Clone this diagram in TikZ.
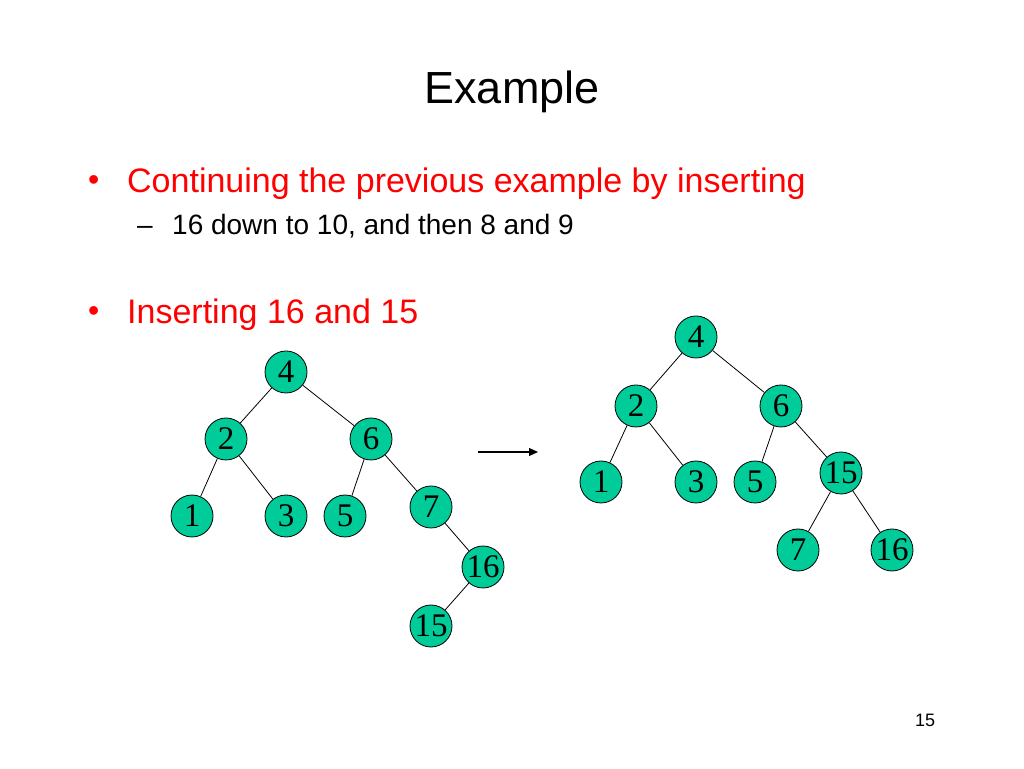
\documentclass[tikz,border=0pt]{standalone}
\usepackage{fontspec}
\setmainfont{Liberation Serif}
\setsansfont{Liberation Sans}
\usetikzlibrary{arrows.meta}
\usetikzlibrary{positioning}
\definecolor{keygreen}{RGB}{0,204,153}
\newcommand{\slidefont}[1]{\sffamily\fontsize{#1}{#1}\selectfont}

\begin{document}
\begin{tikzpicture}
    [x=1pt,y=1pt,
    key/.style={circle,draw=black,fill=keygreen,line width=0.8pt,
      inner sep=0pt,minimum size=42pt,font=\fontsize{33}{33}\selectfont},
    link/.style={draw=black,line width=0.8pt},
    bullet/.style={anchor=base west,inner sep=0pt},
    on grid]

    \useasboundingbox (0,0) rectangle (1024,768);

    % text of the slide
    \node (title) [anchor=base,inner sep=0pt] at (512,664) {\slidefont{45}Example};
    \node (dot1) [bullet,text=red] at (88,577) {\slidefont{32}\textbullet};
    \node (item1) [bullet,text=red] at (127,575) {\slidefont{34}Continuing the previous example by inserting};
    \node (dash1) [bullet] at (137,533) {\slidefont{28}--};
    \node (item2) [bullet] at (172,533) {\slidefont{28}16 down to 10, and then 8 and 9};
    \node (dot2) [bullet,text=red] at (88,446) {\slidefont{32}\textbullet};
    \node (item3) [bullet,text=red] at (127,444) {\slidefont{34}Inserting 16 and 15};
    \node (page) [anchor=base,inner sep=0pt] at (925,42) {\slidefont{18}15};

    % tree before the rotation
    \node[key] (l4) at (286,396) {4};
    \node[key] (l2)  [below left=67pt and 60pt of l4]  {2};
    \node[key] (l6)  [below right=67pt and 85pt of l4] {6};
    \node[key] (l1)  [below left=77pt and 34pt of l2]  {1};
    \node[key] (l3)  [below right=77pt and 60pt of l2] {3};
    \node[key] (l5)  [below left=77pt and 26pt of l6]  {5};
    \node[key] (l7)  [below right=68pt and 60pt of l6] {7};
    \node[key] (l16) [below right=60pt and 52pt of l7] {16};
    \node[key] (l15) [below left=59pt and 52pt of l16] {15};

    \draw[link] (l4) -- (l2);
    \draw[link] (l4) -- (l6);
    \draw[link] (l2) -- (l1);
    \draw[link] (l2) -- (l3);
    \draw[link] (l6) -- (l5);
    \draw[link] (l6) -- (l7);
    \draw[link] (l7) -- (l16);
    \draw[link] (l16) -- (l15);

    % arrow
    \coordinate (arrow start) at (478,316);
    \coordinate (arrow end)   at (538,316);
    \draw[line width=1.2pt,-{Triangle[length=9pt,width=8pt]}] (arrow start) -- (arrow end);

    % tree after the rotation
    \node[key] (r4) at (696,431) {4};
    \node[key] (r2)  [below left=69pt and 60pt of r4]  {2};
    \node[key] (r6)  [below right=69pt and 85pt of r4] {6};
    \node[key] (r1)  [below left=76pt and 35pt of r2]  {1};
    \node[key] (r3)  [below right=76pt and 60pt of r2] {3};
    \node[key] (r5)  [below left=76pt and 26pt of r6]  {5};
    \node[key] (r15) [below right=67pt and 60pt of r6] {15};
    \node[key] (r7)  [below left=77pt and 43pt of r15] {7};
    \node[key] (r16) [below right=77pt and 51pt of r15] {16};

    \draw[link] (r4) -- (r2);
    \draw[link] (r4) -- (r6);
    \draw[link] (r2) -- (r1);
    \draw[link] (r2) -- (r3);
    \draw[link] (r6) -- (r5);
    \draw[link] (r6) -- (r15);
    \draw[link] (r15) -- (r7);
    \draw[link] (r15) -- (r16);

  \end{tikzpicture}
\end{document}
